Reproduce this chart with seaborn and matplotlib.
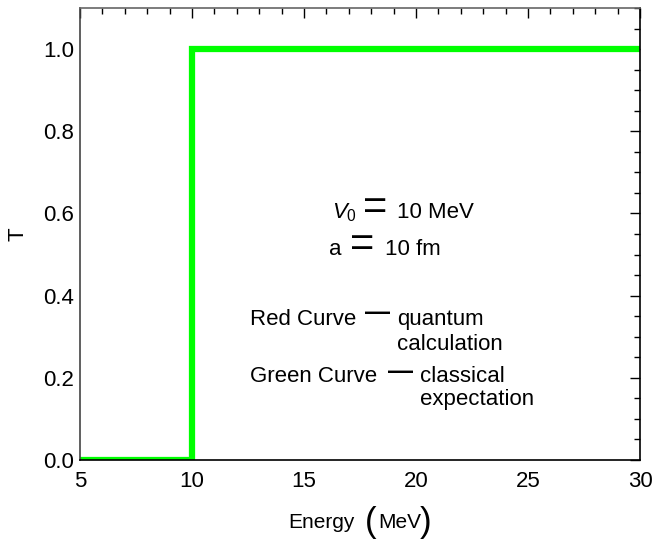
import numpy as np
import pandas as pd
import seaborn as sns
import matplotlib
matplotlib.use("Agg")
import matplotlib.pyplot as plt
from matplotlib.ticker import MultipleLocator

# Data: classical transmission (step at V0 = 10 MeV)
energy = [5, 10, 10, 30]
transmission = [0.0, 0.0, 1.0, 1.0]

xticks = [5, 10, 15, 20, 25, 30]
yticks = [0.0, 0.2, 0.4, 0.6, 0.8, 1.0]

sns.set_style("white")
plt.rcParams['font.family'] = ['Liberation Sans', 'DejaVu Sans']
plt.rcParams['text.color'] = 'black'
plt.rcParams['axes.labelcolor'] = 'black'
plt.rcParams['xtick.color'] = 'black'
plt.rcParams['ytick.color'] = 'black'
plt.rcParams['mathtext.fontset'] = 'custom'
plt.rcParams['mathtext.rm'] = 'Liberation Sans'
plt.rcParams['mathtext.it'] = 'Liberation Sans:italic'

fig = plt.figure(figsize=(6.59, 5.41), dpi=100)
ax = fig.add_axes([80/659, 1-460/541, 560/659, 452/541])

df = pd.DataFrame({"Energy": energy, "T": transmission})
sns.lineplot(data=df, x="Energy", y="T", ax=ax, color="#00ff00", linewidth=4.5,
             sort=False, estimator=None, solid_joinstyle="miter")

ax.set_xlim(5, 30)
ax.set_ylim(0, 1.1)
ax.set_xticks(xticks)
ax.set_yticks(yticks)
ax.set_xticklabels([str(v) for v in xticks])
ax.set_yticklabels([f"{v:.1f}" for v in yticks])
ax.xaxis.set_minor_locator(MultipleLocator(1))
ax.yaxis.set_minor_locator(MultipleLocator(0.05))
ax.tick_params(which="both", direction="in", top=True, right=True, color="black")
ax.tick_params(which="major", length=7, width=1, labelsize=16)
ax.tick_params(axis="x", which="major", pad=8)
ax.tick_params(axis="y", which="major", pad=4)
ax.tick_params(which="minor", length=4, width=1)
for s in ax.spines.values():
    s.set_color("black")
    s.set_linewidth(1.2)
ax.spines["top"].set_color("#666666")
ax.spines["left"].set_color("#444444")
ax.set_xlabel("")
ax.set_ylabel("T", fontsize=16, va="center")
ax.yaxis.set_label_coords(-(80-18)/560, 0.5)

fs = 16
# Annotations (data coordinates)
ax.text(16.25, 0.589, r"$V_0$", fontsize=fs, va="baseline", ha="left")
ax.text(18.17, 0.613, "=", fontsize=30, va="center", ha="center")
ax.text(19.15, 0.589, "10 MeV", fontsize=fs, va="baseline", ha="left")
ax.text(16.12, 0.499, "a", fontsize=fs, va="baseline", ha="left")
ax.text(17.59, 0.523, "=", fontsize=30, va="center", ha="center")
ax.text(18.62, 0.499, "10 fm", fontsize=fs, va="baseline", ha="left")

ax.text(12.59, 0.328, "Red Curve", fontsize=fs, va="baseline", ha="left")
ax.text(18.30, 0.358, "\u2014", fontsize=18, fontweight="bold", va="center", ha="center")
ax.text(19.15, 0.328, "quantum", fontsize=fs, va="baseline", ha="left")
ax.text(19.15, 0.268, "calculation", fontsize=fs, va="baseline", ha="left")
ax.text(12.59, 0.190, "Green Curve", fontsize=fs, va="baseline", ha="left")
ax.text(19.29, 0.214, "\u2014", fontsize=18, fontweight="bold", va="center", ha="center")
ax.text(20.18, 0.190, "classical", fontsize=fs, va="baseline", ha="left")
ax.text(20.18, 0.134, "expectation", fontsize=fs, va="baseline", ha="left")

# x label with large parentheses
ax.text((288-80)/560, (460-528)/452, "Energy", fontsize=15, va="baseline", ha="left",
        transform=ax.transAxes)
ax.text((365-80)/560, (460-532)/452, "(", fontsize=25, va="baseline", ha="left",
        transform=ax.transAxes)
ax.text((378-80)/560, (460-528)/452, "MeV", fontsize=15, va="baseline", ha="left",
        transform=ax.transAxes)
ax.text((420-80)/560, (460-532)/452, ")", fontsize=25, va="baseline", ha="left",
        transform=ax.transAxes)

fig.savefig("out.png", dpi=100)
